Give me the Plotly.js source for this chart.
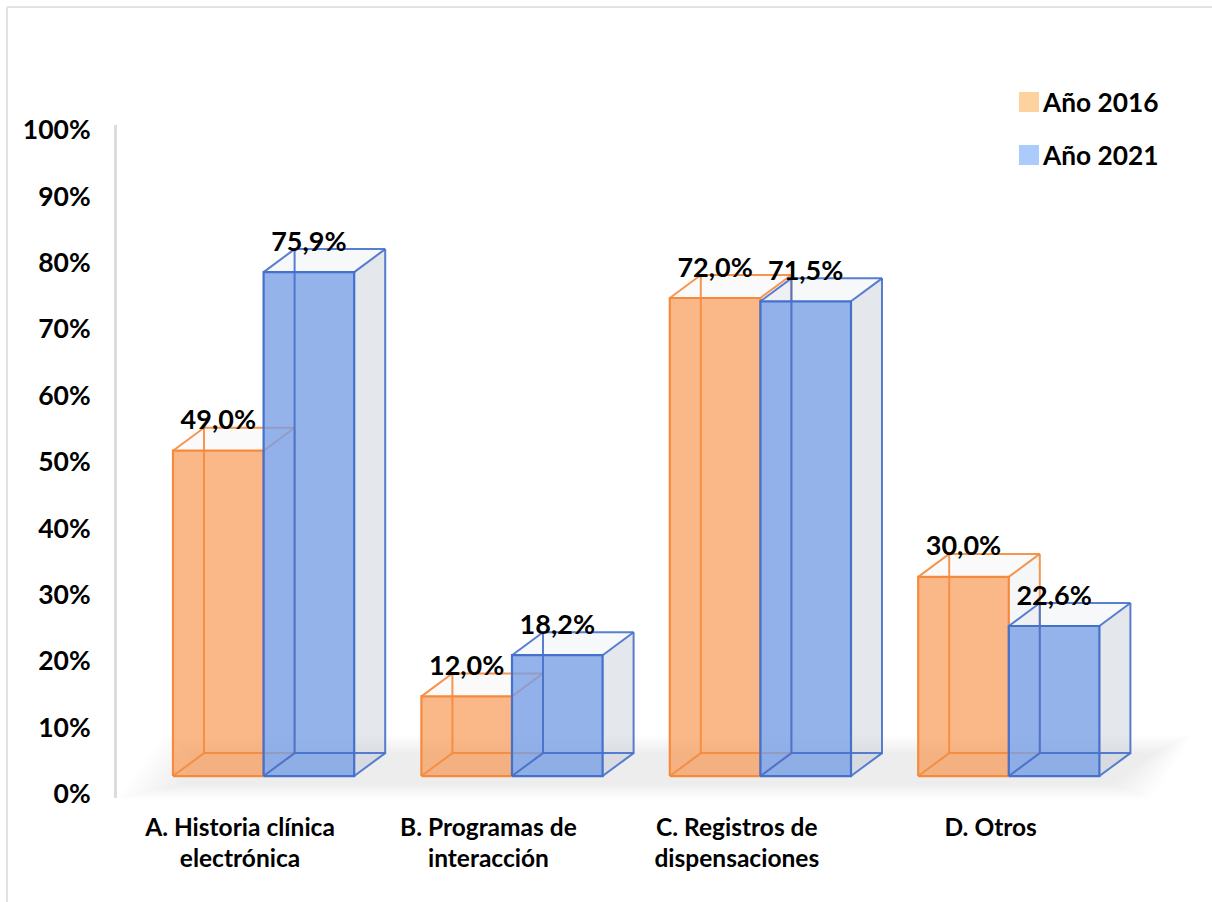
<!DOCTYPE html>
<html><head><meta charset="utf-8">
<script src="https://cdn.plot.ly/plotly-3.0.1.min.js"></script>
<style>html,body{margin:0;padding:0;background:#fff}</style></head>
<body><div id="chart" style="width:1212px;height:902px"></div>
<script>
const categories = ["A. Historia clínica<br>electrónica","B. Programas de<br>interacción","C. Registros de<br>dispensaciones","D. Otros"];
const categoryPositions = [0,1,2,3.022];
const values2016 = [49.0,12.0,72.0,30.0];
const values2021 = [75.9,18.2,71.5,22.6];
const seriesNames = ["Año 2016","Año 2021"];
const yTicks = [0,10,20,30,40,50,60,70,80,90,100];

const FONT = 'Lato, "Open Sans", sans-serif';
const W=1212,H=902;
const pxPerY=6.64, pxPerX=248.4;
const base=2.7, depthY=3.46, depthX=31/pxPerX, barW=90.6/pxPerX, left0=-67/pxPerX;
const styles=[
 {edge:'#F58A3C',front:'rgba(248,150,80,0.68)',back:'rgba(245,138,60,0.9)',side:'rgba(205,210,220,0.20)',top:'rgba(205,210,220,0.10)'},
 {edge:'#4570CC',front:'rgba(118,158,230,0.78)',back:'rgba(69,112,204,0.9)',side:'rgba(196,204,216,0.45)',top:'rgba(196,204,216,0.14)'}
];
const traces=[];
function poly(xs,ys,fill){traces.push({type:'scatter',mode:'none',x:xs,y:ys,fill:'toself',fillcolor:fill,hoverinfo:'skip',showlegend:false});}
function lines(xs,ys,color,w){traces.push({type:'scatter',mode:'lines',x:xs,y:ys,line:{color:color,width:w,shape:'linear'},connectgaps:false,hoverinfo:'skip',showlegend:false});}
function bar(i,s,val){
  const st=styles[s];
  const x0=left0+i+s*barW, x1=x0+barW, y0=base, y1=base+val, dx=depthX, dy=depthY;
  poly([x1,x1+dx,x1+dx,x1,x1],[y0,y0+dy,y1+dy,y1,y0],st.side);
  poly([x0,x0+dx,x1+dx,x1,x0],[y1,y1+dy,y1+dy,y1,y1],st.top);
  poly([x0,x0+dx,x1+dx,x1,x0],[y0,y0+dy,y0+dy,y0,y0],st.top);
  poly([x0,x1,x1,x0,x0],[y0,y0,y1,y1,y0],st.front);
  lines([x0+dx,x0+dx,x1+dx,null,x0+dx,x1+dx,x1+dx,null,x0,x0+dx,null,x1,x1+dx,null,x0,x0+dx,null,x1,x1+dx],
        [y0+dy,y1+dy,y1+dy,null,y0+dy,y0+dy,y1+dy,null,y1,y1+dy,null,y1,y1+dy,null,y0,y0+dy,null,y0,y0+dy],st.back,2);
  lines([x0,x1,x1,x0,x0],[y0,y0,y1,y1,y0],st.edge,2.2);
}
for(let i=0;i<categories.length;i++){bar(i,0,values2016[i]);bar(i,1,values2021[i]);}
const lx=[],ly=[],lt=[];
[values2016,values2021].forEach((arr,s)=>arr.forEach((v,i)=>{
  lx.push(left0+i+s*barW+barW/2); ly.push(v+base+4.25); lt.push(v.toFixed(1).replace('.',',')+'%');
}));
traces.push({type:'scatter',mode:'text',x:lx,y:ly,text:lt,textposition:'middle center',
  textfont:{family:FONT,size:27,color:'#000',weight:700},hoverinfo:'skip',showlegend:false});

const px=(x)=>x/W, py=(y)=>1-y/H;
const shapes=[
 {type:'line',xref:'paper',yref:'paper',x0:px(7),x1:px(W),y0:py(7),y1:py(7),line:{color:'#e2e2e2',width:2}},
 {type:'line',xref:'paper',yref:'paper',x0:px(7),x1:px(7),y0:py(7),y1:py(H),line:{color:'#e2e2e2',width:2}},
 {type:'rect',xref:'paper',yref:'paper',x0:px(1019),x1:px(1039),y0:py(92),y1:py(112),fillcolor:'#FDD29E',line:{width:0}},
 {type:'rect',xref:'paper',yref:'paper',x0:px(1019),x1:px(1039),y0:py(145),y1:py(165),fillcolor:'#ABCBFA',line:{width:0}}
];
// soft floor behind the bars
for(let k=0;k<9;k++){
  const t=k*3;
  const a=[[118+t*2.6,799-t*0.6],[165+t*1.2,735+t*0.75],[1192-t*1.5,735+t*0.75],[1150-t*1.5,799-t*0.6]];
  shapes.push({type:'path',xref:'paper',yref:'paper',layer:'below',line:{width:0},fillcolor:'rgba(190,190,190,0.024)',
    path:'M'+a.map(p=>px(p[0])+','+py(p[1])).join(' L')+' Z'});
}
const annotations=seriesNames.map((n,i)=>({xref:'paper',yref:'paper',x:px(1039.5),y:py(102+53*i),xanchor:'left',yanchor:'middle',
  text:n,showarrow:false,font:{family:FONT,size:26.3,color:'#000',weight:700}}));

Plotly.newPlot('chart',traces,{
  width:W,height:H,margin:{l:0,r:0,t:0,b:0,pad:0},paper_bgcolor:'#fff',plot_bgcolor:'rgba(0,0,0,0)',showlegend:false,
  xaxis:{domain:[117/W,1],range:[(117-240)/pxPerX,(W-240)/pxPerX],tickmode:'array',tickvals:categoryPositions,ticktext:categories,
    showgrid:false,zeroline:false,showline:false,ticks:'',ticklabelstandoff:12,tickangle:0,
    tickfont:{family:FONT,size:24.5,color:'#000',weight:700}},
  yaxis:{domain:[1-798/H,1-125/H],range:[(794-798)/pxPerY,(794-125)/pxPerY],tickmode:'array',tickvals:yTicks,ticktext:yTicks.map(v=>v+'%'),
    showgrid:false,zeroline:false,showline:true,linecolor:'#dcdcdc',linewidth:3,ticks:'',ticklabelstandoff:18,
    tickfont:{family:FONT,size:26.5,color:'#000',weight:700}},
  shapes,annotations,font:{family:FONT}
},{displayModeBar:false,staticPlot:true});
</script></body></html>
